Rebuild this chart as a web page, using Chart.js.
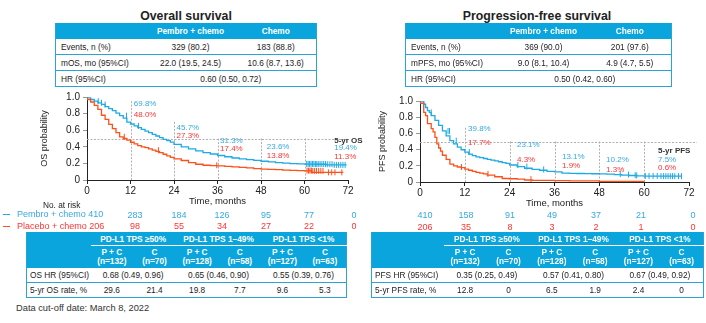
<!DOCTYPE html>
<html>
<head>
<meta charset="utf-8">
<script src="https://cdn.jsdelivr.net/npm/chart.js@4.4.1/dist/chart.umd.min.js"></script>
<style>
  html, body { margin: 0; padding: 0; }
  body { width: 706px; height: 323px; position: relative; overflow: hidden; background: #fff;
         font-family: "Liberation Sans", Arial, sans-serif; color: #222; }
  .abs { position: absolute; white-space: nowrap; }
  .title { top: 9px; font-weight: bold; font-size: 12.3px; transform: translateX(-50%); }
  table { position: absolute; border-collapse: collapse; table-layout: fixed; font-size: 8.3px; }
  td { padding: 0; white-space: nowrap; text-align: center; }
  .sum td { height: 15px; border-bottom: 1px solid #2aa3d6; }
  .sum tr.hd td { height: 16px; background: #0aa5dd; color: #fff; font-weight: bold; border-bottom: none; }
  .sum td:first-child { text-align: left; padding-left: 5px; border-left: 1px solid #2aa3d6; }
  .sum td:last-child { border-right: 1px solid #2aa3d6; }
  .sub td { height: 14px; border-bottom: 1px solid #2aa3d6; }
  .sub tr.g td { height: 13px; background: #0aa5dd; color: #fff; font-weight: bold; border-bottom: none; }
  .sub tr.g td + td { border-bottom: 1px solid #fff; }
  .sub tr.a td { height: 22px; background: #0aa5dd; color: #fff; font-weight: bold; line-height: 9px; border-bottom: none; }
  .sub td:first-child { text-align: left; padding-left: 3px; border-left: 1px solid #2aa3d6; }
  .sub td:last-child { border-right: 1px solid #2aa3d6; }
  .risk { font-size: 9px; transform: translate(-50%, -50%); }
  canvas { position: absolute; }
</style>
</head>
<body>
<div class="abs title" style="left:186px">Overall survival</div>
<div class="abs title" style="left:537px">Progression-free survival</div>
<canvas id="osChart" width="340" height="122" style="left:30px;top:88px"></canvas>
<canvas id="pfsChart" width="335" height="120" style="left:365px;top:92px"></canvas>
<div class="abs" style="left:16px;top:303px;font-size:9.3px;color:#333">Data cut-off date: March 8, 2022</div>
<script>
// summary tables
const osHead = ['Pembro + chemo', 'Chemo'];
const osRows = [
  ['Events, n (%)', '329 (80.2)', '183 (88.8)'],
  ['mOS, mo (95%CI)', '22.0 (19.5, 24.5)', '10.6 (8.7, 13.6)']
];
const osHR = ['HR (95%CI)', '0.60 (0.50, 0.72)'];
const pfsHead = ['Pembro + chemo', 'Chemo'];
const pfsRows = [
  ['Events, n (%)', '369 (90.0)', '201 (97.6)'],
  ['mPFS, mo (95%CI)', '9.0 (8.1, 10.4)', '4.9 (4.7, 5.5)']
];
const pfsHR = ['HR (95%CI)', '0.50 (0.42, 0.60)'];

// PD-L1 subgroups
const tpsGroups = ['PD-L1 TPS ≥50%', 'PD-L1 TPS 1–49%', 'PD-L1 TPS &lt;1%'];
const tpsArms = ['P + C', 'C', 'P + C', 'C', 'P + C', 'C'];
const tpsN = [132, 70, 128, 58, 127, 63];
const osSubHR = ['0.68 (0.49, 0.96)', '0.65 (0.46, 0.90)', '0.55 (0.39, 0.76)'];
const osSub5yr = ['29.6', '21.4', '19.8', '7.7', '9.6', '5.3'];
const pfsSubHR = ['0.35 (0.25, 0.49)', '0.57 (0.41, 0.80)', '0.67 (0.49, 0.92)'];
const pfsSub5yr = ['12.8', '0', '6.5', '1.9', '2.4', '0'];

// numbers at risk (0, 12, ... 72 months)
const osRiskPembro = [410, 283, 184, 126, 95, 77, 0];
const osRiskChemo = [206, 98, 55, 34, 27, 22, 0];
const pfsRiskPembro = [410, 158, 91, 49, 37, 21, 0];
const pfsRiskChemo = [206, 35, 8, 3, 2, 1, 0];

// Kaplan-Meier estimates, OS
const osPembroMonths = [0,1,2,3,4,5,6,7,8,9,10,11,12,13,14,15,16,17,18,19,20,21,22,23,24,26,28,30,32,34,36,38,40,42,44,46,48,50,52,54,56,58,60,63,66,68,71.6];
const osPembroSurv   = [1,0.99,0.97,0.95,0.93,0.91,0.885,0.86,0.835,0.805,0.775,0.745,0.698,0.675,0.652,0.63,0.61,0.59,0.57,0.55,0.53,0.51,0.49,0.475,0.457,0.43,0.40,0.375,0.35,0.33,0.313,0.295,0.28,0.265,0.255,0.245,0.236,0.226,0.218,0.21,0.204,0.198,0.194,0.192,0.19,0.182,0.182];
const osPembroCensor = [3.1,4.0,5.0,10.9,14.2,60.6,61.0,61.4,61.8,62.2,62.6,63.0,63.4,63.8,64.3,64.8,65.3,65.8,66.4,67.0,67.6,68.2,68.8,69.4,70.0,70.6,71.2];
const osChemoMonths = [0,1,2,3,4,5,6,7,8,9,10,11,12,13,14,15,16,17,18,19,20,21,22,23,24,26,28,30,32,34,36,38,40,42,44,46,48,50,52,54,56,58,60,62,65.6,70.7];
const osChemoSurv   = [1,0.97,0.94,0.90,0.85,0.78,0.73,0.67,0.62,0.57,0.52,0.50,0.48,0.455,0.435,0.415,0.40,0.39,0.375,0.36,0.345,0.33,0.31,0.29,0.273,0.255,0.235,0.21,0.19,0.178,0.174,0.17,0.164,0.158,0.152,0.145,0.138,0.132,0.128,0.124,0.12,0.116,0.113,0.11,0.092,0.092];
const osChemoCensor = [10.3,19.7,35.8,60.7,61.1,61.5,61.9,62.3,62.8,63.3,63.9,64.5,65.1,66.6,67.5,68.4,70.3];

// Kaplan-Meier estimates, PFS
const pfsPembroMonths = [0,1,1.5,2,2.5,3,4,5,6,7,8,9,10,11,12,13,14,15,16,17,18,19,20,21,22,23,24,26,28,30,32,34,36,38,40,42,44,46,48,50,52,54,56,58,60,64,70];
const pfsPembroSurv   = [1,0.99,0.96,0.92,0.88,0.86,0.82,0.76,0.70,0.63,0.57,0.51,0.47,0.43,0.398,0.37,0.345,0.325,0.31,0.30,0.29,0.28,0.27,0.26,0.25,0.24,0.231,0.21,0.19,0.17,0.155,0.145,0.131,0.125,0.11,0.107,0.105,0.104,0.102,0.10,0.098,0.092,0.085,0.08,0.075,0.072,0.072];
const pfsPembroCensor = [1.0,3.0,7.5,7.9,9.7,13.2,26.2,28.6,33.1,53.6,55.8,57.6,58.0,60.3,61.3,62.4,63.5,64.5,65.2,65.8,66.4,67.0,67.6,68.2,69.2,70.0];
const pfsChemoMonths = [0,1,1.5,2,3,3.5,4,4.5,5,5.5,6,7,8,9,10,11,12,13,14,15,16,17,18,20,22,24,26,28,30,32,36,40,48,57.5,60];
const pfsChemoSurv   = [1,0.97,0.86,0.82,0.72,0.66,0.62,0.55,0.47,0.42,0.38,0.33,0.28,0.22,0.20,0.185,0.177,0.16,0.145,0.13,0.12,0.11,0.10,0.085,0.065,0.043,0.04,0.035,0.025,0.02,0.019,0.016,0.013,0.006,0.006];
const pfsChemoCensor = [11.1,18.2,29.7];

const landmarkMonths = [12, 24, 36, 48, 60];

const BLUE = '#1eaae5', RED = '#ff5019';
const BLUE_TXT = '#36a9e1', RED_TXT = '#ff3434';

Chart.defaults.font.family = '"Liberation Sans", Arial, sans-serif';
Chart.defaults.color = '#222';

function survAt(months, surv, t) {
  let v = surv[0];
  for (let i = 0; i < months.length; i++) if (months[i] <= t) v = surv[i];
  return v;
}
const pts = (m, s) => m.map((x, i) => ({ x, y: s[i] }));
const censorPts = (c, m, s) => c.map(t => ({ x: t, y: survAt(m, s, t) }));

// ---- tables
function summaryTable(left, widths, head, rows, hr) {
  const t = document.createElement('table');
  t.className = 'sum';
  t.style.left = left + 'px';
  t.style.top = '23px';
  t.style.width = widths.reduce((a, b) => a + b) + 'px';
  t.innerHTML = `<colgroup>${widths.map(w => `<col style="width:${w}px">`).join('')}</colgroup>` +
    `<tr class="hd"><td></td>${head.map(h => `<td>${h}</td>`).join('')}</tr>` +
    rows.map(r => `<tr>${r.map(c => `<td>${c}</td>`).join('')}</tr>`).join('') +
    `<tr><td>${hr[0]}</td><td colspan="2">${hr[1]}</td></tr>`;
  document.body.appendChild(t);
}
function subgroupTable(left, labelW, colW, hrLabel, hrs, rateLabel, rates) {
  const t = document.createElement('table');
  t.className = 'sub';
  t.style.left = left + 'px';
  t.style.top = '232px';
  t.style.width = (labelW + colW * 6) + 'px';
  t.innerHTML = `<colgroup><col style="width:${labelW}px">${tpsArms.map(() => `<col style="width:${colW}px">`).join('')}</colgroup>` +
    `<tr class="g"><td></td>${tpsGroups.map(g => `<td colspan="2">${g}</td>`).join('')}</tr>` +
    `<tr class="a"><td></td>${tpsArms.map((a, i) => `<td>${a}<br>(n=${tpsN[i]})</td>`).join('')}</tr>` +
    `<tr><td>${hrLabel}</td>${hrs.map(h => `<td colspan="2">${h}</td>`).join('')}</tr>` +
    `<tr><td>${rateLabel}</td>${rates.map(r => `<td>${r}</td>`).join('')}</tr>`;
  document.body.appendChild(t);
}
summaryTable(55, [90, 90, 81], osHead, osRows, osHR);
summaryTable(405, [93, 90, 83], pfsHead, pfsRows, pfsHR);
subgroupTable(26, 64, 42.67, 'OS HR (95%CI)', osSubHR, '5-yr OS rate, %', osSub5yr);
subgroupTable(371, 72, 43.33, 'PFS HR (95%CI)', pfsSubHR, '5-yr PFS rate, %', pfsSub5yr);

// ---- numbers at risk
function addText(html, x, y, cls, style) {
  const d = document.createElement('div');
  d.className = 'abs ' + cls;
  d.style.left = x + 'px';
  d.style.top = y + 'px';
  Object.assign(d.style, style || {});
  d.innerHTML = html;
  document.body.appendChild(d);
}
addText('No. at risk', 43, 200, '', { fontSize: '8.3px', color: '#222' });
addText('', 3, 213.5, '', { width: '7px', height: '1.5px', background: BLUE });
addText('', 3, 225.5, '', { width: '7px', height: '1.5px', background: RED });
addText('Pembro + chemo ' + osRiskPembro[0], 17, 208.5, '', { fontSize: '9px', color: BLUE_TXT });
addText('Placebo + chemo ' + osRiskChemo[0], 17, 220.5, '', { fontSize: '9px', color: RED_TXT });
const osRiskX = [135, 179, 222, 266, 309, 354];
osRiskX.forEach((x, i) => {
  addText(osRiskPembro[i + 1], x, 214.5, 'risk', { color: BLUE_TXT });
  addText(osRiskChemo[i + 1], x, 226, 'risk', { color: RED_TXT });
});
const pfsRiskX = [425, 466, 510, 552, 596, 641, 693];
pfsRiskX.forEach((x, i) => {
  addText(pfsRiskPembro[i], x, 215, 'risk', { color: BLUE_TXT });
  addText(pfsRiskChemo[i], x, 226.5, 'risk', { color: RED_TXT });
});

// dotted landmark guides and landmark rate labels
const landmarkPlugin = {
  id: 'landmarks',
  beforeDatasetsDraw(chart, args, o) {
    const { ctx, chartArea, scales: { x, y } } = chart;
    ctx.save();
    ctx.strokeStyle = '#b0b0b0';
    ctx.lineWidth = 1;
    ctx.setLineDash([2, 1.5]);
    const yh = Math.round(y.getPixelForValue(0.5)) + 0.5;
    ctx.beginPath();
    ctx.moveTo(chartArea.left, yh);
    ctx.lineTo(chartArea.right + o.extend, yh);
    ctx.stroke();
    landmarkMonths.forEach((m, i) => {
      const px = Math.round(x.getPixelForValue(m)) + 0.5;
      ctx.beginPath();
      ctx.moveTo(px, y.getPixelForValue(o.tops[i]));
      ctx.lineTo(px, chartArea.bottom);
      ctx.stroke();
    });
    ctx.restore();
  },
  afterDatasetsDraw(chart, args, o) {
    const { ctx, scales: { x, y } } = chart;
    ctx.save();
    ctx.textAlign = 'left';
    ctx.textBaseline = 'middle';
    ctx.font = '8px "Liberation Sans", Arial, sans-serif';
    landmarkMonths.forEach((m, i) => {
      const px = x.getPixelForValue(o.labelX[i]);
      const p = survAt(o.pembro[0], o.pembro[1], m) * 100;
      const c = survAt(o.chemo[0], o.chemo[1], m) * 100;
      ctx.fillStyle = BLUE_TXT;
      ctx.fillText(p.toFixed(1) + '%', px, y.getPixelForValue(o.labelYP[i]));
      ctx.fillStyle = RED_TXT;
      ctx.fillText(c.toFixed(1) + '%', px, y.getPixelForValue(o.labelYC[i]));
    });
    ctx.font = 'bold 8px "Liberation Sans", Arial, sans-serif';
    ctx.fillStyle = '#333';
    ctx.fillText(o.tag, x.getPixelForValue(o.labelX[4]), y.getPixelForValue(o.tagY));
    ctx.restore();
  }
};

function kmChart(id, yTitle, pembro, chemo, pembroCensor, chemoCensor, axisW, pad, lm) {
  return new Chart(document.getElementById(id), {
    type: 'line',
    data: {
      datasets: [
        { data: pts(chemo[0], chemo[1]), borderColor: RED, borderWidth: 1.3, stepped: 'after', pointRadius: 0 },
        { data: pts(pembro[0], pembro[1]), borderColor: BLUE, borderWidth: 1.3, stepped: 'after', pointRadius: 0 },
        { type: 'scatter', data: censorPts(chemoCensor, chemo[0], chemo[1]), pointStyle: 'line', rotation: 90,
          pointRadius: 3, borderColor: RED, borderWidth: 1 },
        { type: 'scatter', data: censorPts(pembroCensor, pembro[0], pembro[1]), pointStyle: 'line', rotation: 90,
          pointRadius: 3, borderColor: BLUE, borderWidth: 1 }
      ]
    },
    options: {
      responsive: false,
      animation: false,
      layout: { padding: pad },
      plugins: { legend: { display: false }, tooltip: { enabled: false },
        landmarks: Object.assign({ pembro, chemo }, lm) },
      scales: {
        x: {
          type: 'linear', min: 0, max: 72,
          afterFit: s => { s.height = 30; },
          ticks: { stepSize: 12, padding: 1, font: { size: 10 }, color: '#222' },
          grid: { drawOnChartArea: false, tickLength: 4, tickColor: '#222' },
          border: { color: '#222' },
          title: { display: true, text: 'Time, months', font: { size: 9.5 }, color: '#222', padding: { top: 0, bottom: 3 } }
        },
        y: {
          min: 0, max: 1,
          afterFit: s => { s.width = axisW; },
          ticks: { stepSize: 0.1, padding: 3, font: { size: 10 }, color: '#222',
            callback: v => { const k = Math.round(v * 10); return k % 2 ? '' : (k === 0 ? '0' : (k / 10).toFixed(1)); } },
          grid: { drawOnChartArea: false, tickLength: 4, tickColor: '#999' },
          border: { color: '#222' },
          title: { display: true, text: yTitle, font: { size: 9 }, color: '#222', padding: { top: lm.titlePad, bottom: 0 } }
        }
      }
    },
    plugins: [landmarkPlugin]
  });
}

kmChart('osChart', 'OS probability',
  [osPembroMonths, osPembroSurv], [osChemoMonths, osChemoSurv], osPembroCensor, osChemoCensor,
  57, { top: 6, right: 22 },
  { tops: [0.95, 0.70, 0.5, 0.5, 0.5], extend: 0, titlePad: 9,
    labelX: [12.9, 24.7, 36.7, 49.6, 68.2],
    labelYP: [0.92, 0.63, 0.475, 0.397, 0.39],
    labelYC: [0.79, 0.537, 0.37, 0.29, 0.28],
    tag: '5-yr OS', tagY: 0.475 });

kmChart('pfsChart', 'PFS probability',
  [pfsPembroMonths, pfsPembroSurv], [pfsChemoMonths, pfsChemoSurv], pfsPembroCensor, pfsChemoCensor,
  55, { top: 7, right: 11 },
  { tops: [0.67, 0.5, 0.5, 0.5, 0.5], extend: 8, titlePad: 12.6,
    labelX: [12.85, 25.96, 38.0, 49.8, 63.7],
    labelYP: [0.66, 0.454, 0.313, 0.277, 0.277],
    labelYC: [0.486, 0.277, 0.205, 0.145, 0.177],
    tag: '5-yr PFS', tagY: 0.386 });
</script>
</body>
</html>
